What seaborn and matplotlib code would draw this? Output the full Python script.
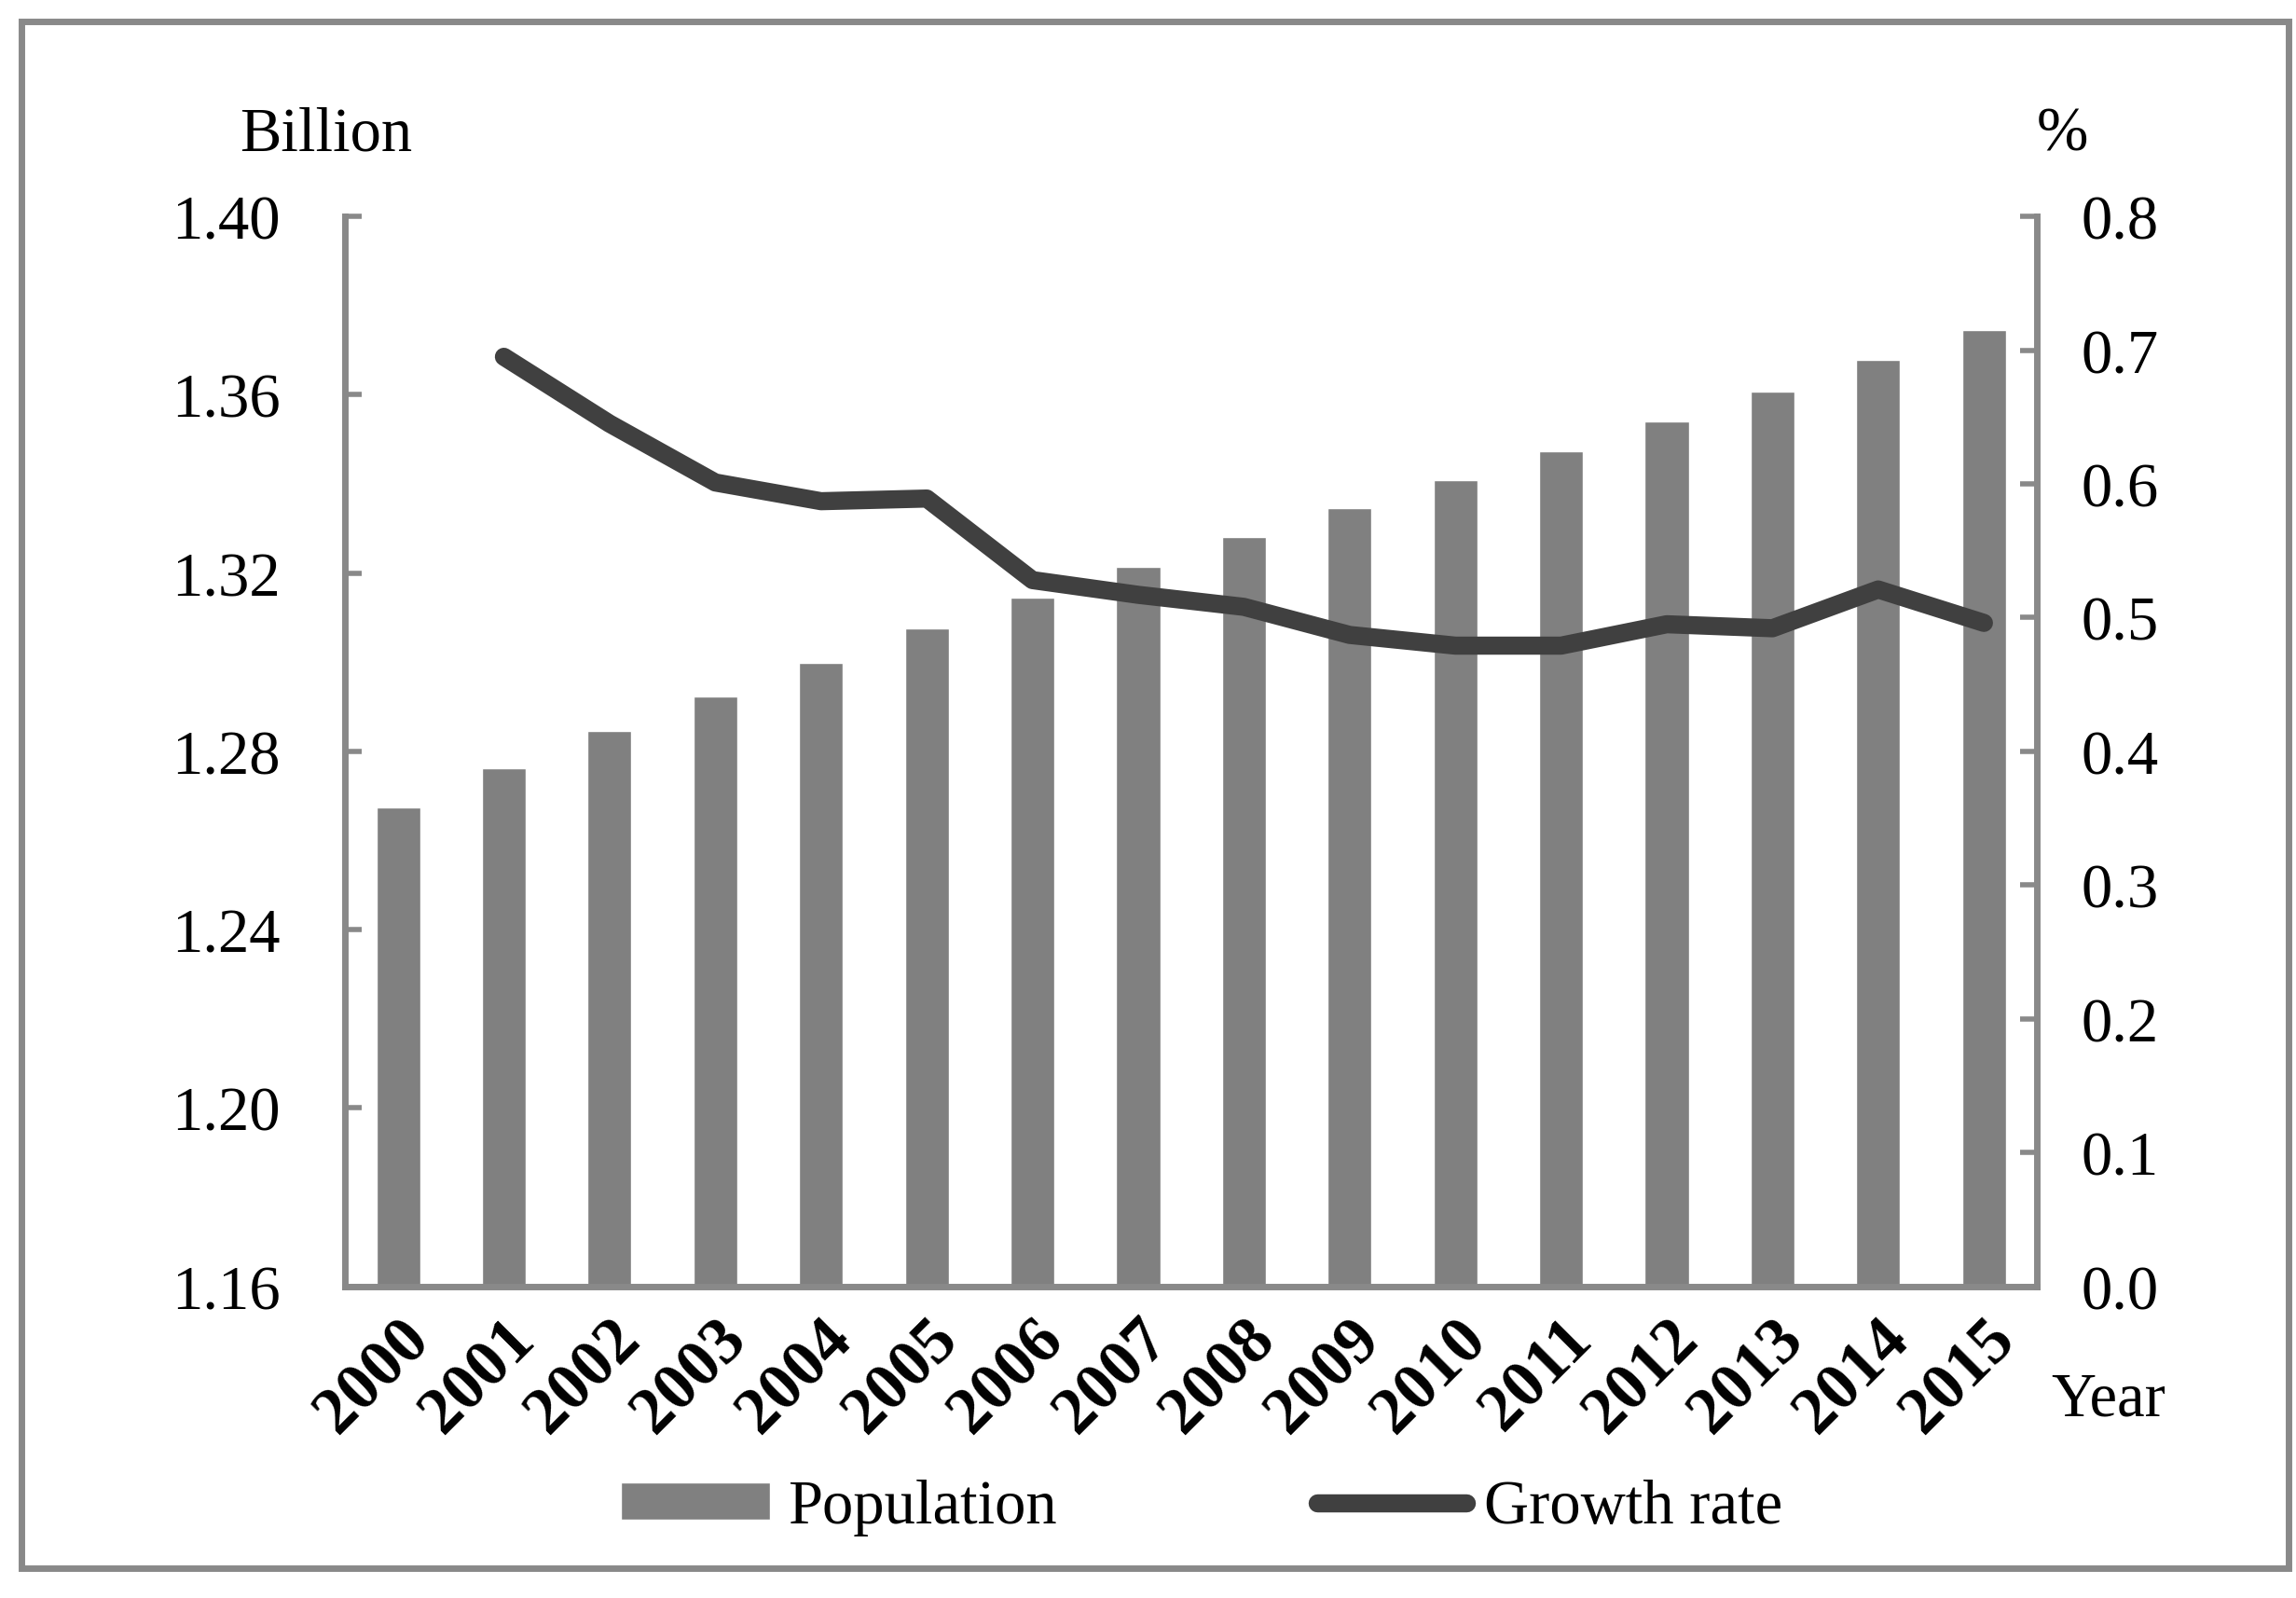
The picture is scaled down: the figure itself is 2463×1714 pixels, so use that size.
import numpy as np
import pandas as pd
import matplotlib
matplotlib.use('Agg')
import matplotlib.pyplot as plt
import matplotlib.ticker as mticker
from matplotlib.patches import Rectangle
import seaborn as sns

# Data
years = ['2000', '2001', '2002', '2003', '2004', '2005', '2006', '2007',
         '2008', '2009', '2010', '2011', '2012', '2013', '2014', '2015']
population = [1.2674, 1.2763, 1.2845, 1.2923, 1.2999, 1.3076, 1.3145, 1.3213,
              1.3280, 1.3345, 1.3409, 1.3474, 1.3540, 1.3607, 1.3678, 1.3746]
growth_rate = [np.nan, 0.695, 0.645, 0.601, 0.587, 0.589, 0.528, 0.517,
               0.508, 0.487, 0.479, 0.479, 0.495, 0.492, 0.521, 0.496]

left_ticks = [1.16, 1.20, 1.24, 1.28, 1.32, 1.36, 1.40]
right_ticks = [0.0, 0.1, 0.2, 0.3, 0.4, 0.5, 0.6, 0.7, 0.8]

df = pd.DataFrame({'year': years, 'population': population, 'growth': growth_rate})
df['pos'] = np.arange(len(df))

sns.set_style('white')
plt.rcParams['font.family'] = ['Liberation Serif', 'DejaVu Serif']
plt.rcParams['text.color'] = 'black'
plt.rcParams['xtick.labelcolor'] = 'black'
plt.rcParams['ytick.labelcolor'] = 'black'

FS = 48
SPINE = '#898989'

fig = plt.figure(figsize=(24.63, 17.15), dpi=100)
ax = fig.add_axes([0.1504, 0.1950, 0.8871 - 0.1504, 0.8641 - 0.1950])

# Bars for population
sns.barplot(data=df, x='year', y='population', color='#808080', width=0.415,
            saturation=1, label='Population', ax=ax)
ax.set_ylim(1.16, 1.40)
ax.set_xlim(-0.5, len(years) - 0.5)
ax.set_yticks(left_ticks)
ax.yaxis.set_major_formatter(mticker.FormatStrFormatter('%.2f'))
ax.set_xlabel('')
ax.set_ylabel('')

# Line for growth rate on the right axis
ax2 = ax.twinx()
sns.lineplot(data=df, x='pos', y='growth', color='#404040', linewidth=14,
             label='Growth rate', ax=ax2, solid_capstyle='round')
ax2.set_ylim(0, 0.8)
ax2.set_yticks(right_ticks)
ax2.yaxis.set_major_formatter(mticker.FormatStrFormatter('%.1f'))
ax2.set_xlim(-0.5, len(years) - 0.5)
ax2.set_ylabel('')
ax2.set_xlabel('')

# Spines and ticks
for a in (ax, ax2):
    for s in a.spines.values():
        s.set_visible(False)
ax.spines['left'].set_visible(True)
ax.spines['bottom'].set_visible(True)
ax2.spines['right'].set_visible(True)
for s in (ax.spines['left'], ax.spines['bottom'], ax2.spines['right']):
    s.set_color(SPINE)
    s.set_linewidth(5)

ax.tick_params(axis='y', direction='in', length=13, width=4, color=SPINE,
               labelsize=FS, labelcolor='black', pad=50, left=True)
ax.tick_params(axis='x', length=0, labelsize=51, labelcolor='black', pad=17)
ax2.tick_params(axis='y', direction='in', length=13, width=4, color=SPINE,
                labelsize=FS, labelcolor='black', pad=34, right=True)
ax.set_xticks(range(len(years)))
ax.set_xticklabels(years, rotation=45, ha='right', rotation_mode='anchor',
                   fontweight='bold')

# Axis captions
fig.text(350 / 2463, 1 - 145 / 1715, 'Billion', fontsize=FS, ha='center', va='center')
fig.text(2212 / 2463, 1 - 145 / 1715, '%', fontsize=FS, ha='center', va='center')
fig.text(2262 / 2463, 1 - 1502 / 1715, 'Year', fontsize=FS, ha='center', va='center')

# Legend
h1, l1 = ax.get_legend_handles_labels()
h2, l2 = ax2.get_legend_handles_labels()
for a in (ax, ax2):
    if a.get_legend() is not None:
        a.get_legend().remove()
fig.legend(h1 + h2, l1 + l2, loc='center', bbox_to_anchor=(0.5234, 0.0566),
           ncol=2, frameon=False, fontsize=FS, handlelength=2.4,
           handleheight=0.55, handletextpad=0.28, columnspacing=4.2,
           borderpad=0)

# Outer frame
fig.patches.append(Rectangle((22.5 / 2463, 1 - 1683 / 1715),
                             (2455 - 22.5) / 2463, (1683 - 23.5) / 1715,
                             transform=fig.transFigure, fill=False,
                             edgecolor=SPINE, linewidth=5))

fig.savefig('out.png', dpi=100)
